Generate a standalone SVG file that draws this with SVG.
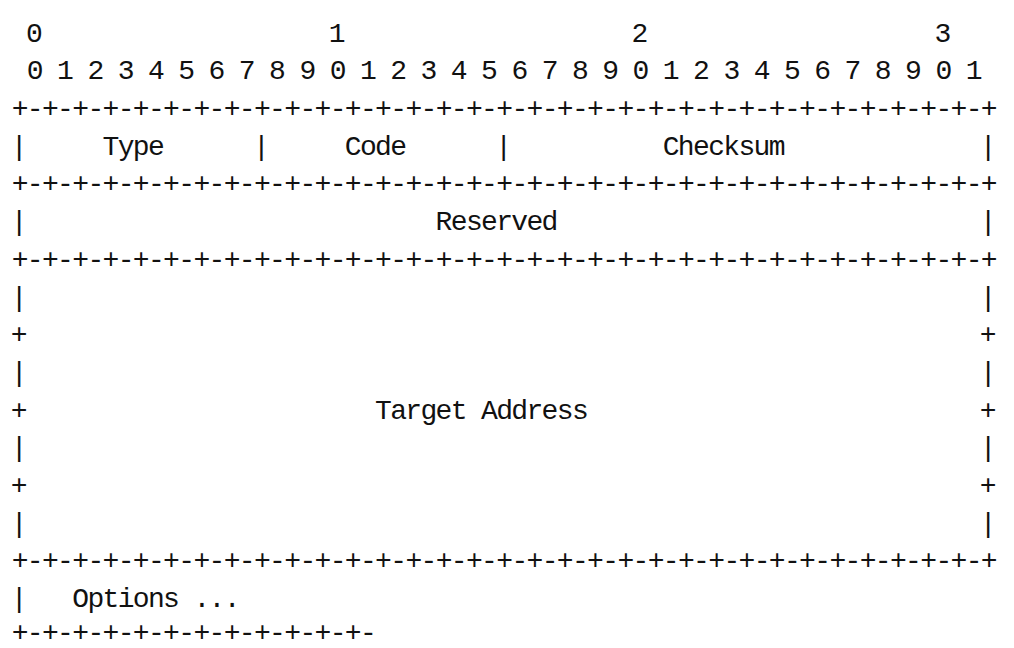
<svg xmlns="http://www.w3.org/2000/svg" width="1014" height="648" viewBox="0 0 1014 648">
  <style>
    /* 28px Liberation Mono advances 16.8px; tighten to a 15.14px character pitch */
    .t { font-family: "Liberation Mono", "DejaVu Sans Mono", monospace; font-size: 28px; fill: #111; }
    .m { letter-spacing: -1.66px; }
    .c { text-anchor: middle; }
  </style>
  <rect width="1014" height="648" fill="#ffffff"/>

  <!-- bit ruler: tens and units -->
  <g id="ruler">
    <text class="t c" x="34.41" y="41.5">0</text>
    <text class="t c" x="337.21" y="41.5">1</text>
    <text class="t c" x="640.01" y="41.5">2</text>
    <text class="t c" x="942.81" y="41.5">3</text>
    <text class="t m" x="26.84" y="79.2">0 1 2 3 4 5 6 7 8 9 0 1 2 3 4 5 6 7 8 9 0 1 2 3 4 5 6 7 8 9 0 1</text>
  </g>

  <!-- horizontal separators between words -->
  <g id="separators">
    <text class="t m" x="11.7" y="116.9">+-+-+-+-+-+-+-+-+-+-+-+-+-+-+-+-+-+-+-+-+-+-+-+-+-+-+-+-+-+-+-+-+</text>
    <text class="t m" x="11.7" y="192.3">+-+-+-+-+-+-+-+-+-+-+-+-+-+-+-+-+-+-+-+-+-+-+-+-+-+-+-+-+-+-+-+-+</text>
    <text class="t m" x="11.7" y="267.8">+-+-+-+-+-+-+-+-+-+-+-+-+-+-+-+-+-+-+-+-+-+-+-+-+-+-+-+-+-+-+-+-+</text>
    <text class="t m" x="11.7" y="569.4">+-+-+-+-+-+-+-+-+-+-+-+-+-+-+-+-+-+-+-+-+-+-+-+-+-+-+-+-+-+-+-+-+</text>
    <text class="t m" x="11.7" y="641">+-+-+-+-+-+-+-+-+-+-+-+-</text>
  </g>

  <!-- word 1: Type / Code / Checksum -->
  <g id="word-type-code-checksum">
    <text class="t c" x="19.27" y="154.6">|</text>
    <text class="t m" x="102.54" y="154.6">Type</text>
    <text class="t c" x="261.51" y="154.6">|</text>
    <text class="t m" x="344.78" y="154.6">Code</text>
    <text class="t c" x="503.75" y="154.6">|</text>
    <text class="t m" x="662.72" y="154.6">Checksum</text>
    <text class="t c" x="988.23" y="154.6">|</text>
  </g>

  <!-- word 2: Reserved -->
  <g id="word-reserved">
    <text class="t c" x="19.27" y="230.1">|</text>
    <text class="t m" x="435.62" y="230.1">Reserved</text>
    <text class="t c" x="988.23" y="230.1">|</text>
  </g>

  <!-- words 3-6: Target Address (128 bits) -->
  <g id="target-address">
    <text class="t c" x="19.27" y="305.5">|</text>
    <text class="t c" x="988.23" y="305.5">|</text>
    <text class="t c" x="19.27" y="343.2">+</text>
    <text class="t c" x="988.23" y="343.2">+</text>
    <text class="t c" x="19.27" y="380.9">|</text>
    <text class="t c" x="988.23" y="380.9">|</text>
    <text class="t c" x="19.27" y="418.6">+</text>
    <text class="t m" x="375.06" y="418.6">Target Address</text>
    <text class="t c" x="988.23" y="418.6">+</text>
    <text class="t c" x="19.27" y="456.3">|</text>
    <text class="t c" x="988.23" y="456.3">|</text>
    <text class="t c" x="19.27" y="494.0">+</text>
    <text class="t c" x="988.23" y="494.0">+</text>
    <text class="t c" x="19.27" y="531.7">|</text>
    <text class="t c" x="988.23" y="531.7">|</text>
  </g>

  <!-- variable-length options -->
  <g id="options">
    <text class="t c" x="19.27" y="607.2">|</text>
    <text class="t m" x="72.26" y="607.2">Options ...</text>
  </g>
</svg>
